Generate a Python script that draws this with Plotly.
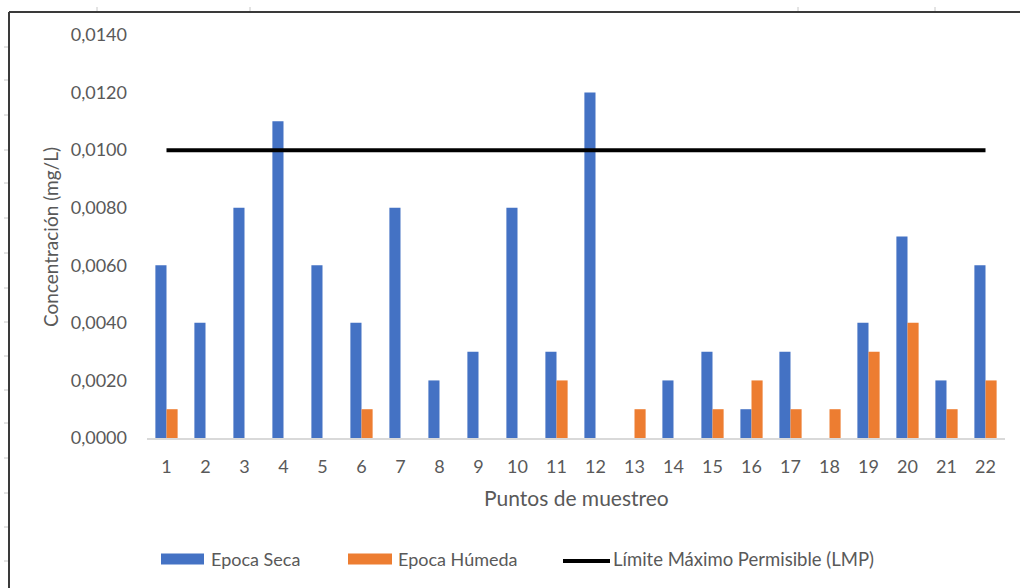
import plotly.graph_objects as go

# Sampling points and measured concentrations (mg/L)
puntos = [str(i) for i in range(1, 23)]
epoca_seca = [0.006, 0.004, 0.008, 0.011, 0.006, 0.004, 0.008, 0.002, 0.003, 0.008, 0.003,
              0.012, 0.0, 0.002, 0.003, 0.001, 0.003, 0.0, 0.004, 0.007, 0.002, 0.006]
epoca_humeda = [0.001, 0.0, 0.0, 0.0, 0.0, 0.001, 0.0, 0.0, 0.0, 0.0, 0.002,
                0.0, 0.001, 0.0, 0.001, 0.002, 0.001, 0.001, 0.003, 0.004, 0.001, 0.002]
lmp = [0.010] * len(puntos)
y_ticks = [0.0, 0.002, 0.004, 0.006, 0.008, 0.010, 0.012, 0.014]
y_tick_text = ["0,0000", "0,0020", "0,0040", "0,0060", "0,0080", "0,0100", "0,0120", "0,0140"]

BLUE = "#4472C4"
ORANGE = "#ED7D31"
TEXT = "#595959"
FONT = "Lato, 'Open Sans', sans-serif"

W, H = 1020, 588
L, R, T, B = 147, 15, 35, 150
PW, PH = W - L - R, H - T - B


def px(x):
    return (x - L) / PW


def py(y):
    return (H - B - y) / PH


fig = go.Figure()
fig.add_trace(go.Bar(x=puntos, y=epoca_seca, name="Epoca Seca", marker_color=BLUE,
                     marker_line_width=0))
fig.add_trace(go.Bar(x=puntos, y=epoca_humeda, name="Epoca Húmeda", marker_color=ORANGE,
                     marker_line_width=0))
fig.add_trace(go.Scatter(x=puntos, y=lmp, mode="lines", name="Límite Máximo Permisible (LMP)",
                         line=dict(color="black", width=4)))

shapes = []
annotations = []

# Outer frame of the chart object
shapes.append(dict(type="line", xref="paper", yref="paper", x0=px(9), x1=px(1020),
                   y0=py(12), y1=py(12), line=dict(color="#3a3a3a", width=2)))
shapes.append(dict(type="line", xref="paper", yref="paper", x0=px(9), x1=px(9),
                   y0=py(12), y1=py(588), line=dict(color="#3a3a3a", width=2)))
for xt in [97, 250, 798, 935]:
    shapes.append(dict(type="line", xref="paper", yref="paper", x0=px(xt), x1=px(xt),
                       y0=py(7), y1=py(11), line=dict(color="#c8c8c8", width=1)))
for yt in [47, 80, 115, 150, 183, 218, 253, 288, 322, 356, 390, 423, 458, 493, 527, 561]:
    shapes.append(dict(type="line", xref="paper", yref="paper", x0=px(4), x1=px(8),
                       y0=py(yt), y1=py(yt), line=dict(color="#c8c8c8", width=1)))

# Legend row
legend_items = [
    ("rect", BLUE, 161, 204, "Epoca Seca", 209, 18),
    ("rect", ORANGE, 348, 392, "Epoca Húmeda", 396, 18),
    ("line", "black", 563, 610, "Límite Máximo Permisible (LMP)", 611, 18.5),
]
ly = 559
for kind, color, x0, x1, label, tx, fs in legend_items:
    if kind == "rect":
        shapes.append(dict(type="rect", xref="paper", yref="paper", x0=px(x0), x1=px(x1),
                           y0=py(ly - 5.5), y1=py(ly + 5.5), fillcolor=color,
                           line=dict(width=0)))
    else:
        shapes.append(dict(type="line", xref="paper", yref="paper", x0=px(x0), x1=px(x1),
                           y0=py(ly + 2), y1=py(ly + 2), line=dict(color=color, width=4)))
    annotations.append(dict(text=label, xref="paper", yref="paper", x=px(tx), y=py(ly),
                            xanchor="left", yanchor="middle", showarrow=False,
                            font=dict(family=FONT, size=fs, color=TEXT)))

# Axis titles
annotations.append(dict(text="Puntos de muestreo", xref="paper", yref="paper",
                        x=px(576), y=py(497), xanchor="center", yanchor="middle",
                        showarrow=False, font=dict(family=FONT, size=21, color=TEXT)))
annotations.append(dict(text="Concentración (mg/L)", xref="paper", yref="paper",
                        x=px(50), y=py(237), xanchor="center", yanchor="middle",
                        textangle=-90, showarrow=False,
                        font=dict(family=FONT, size=19, color=TEXT)))

fig.update_layout(
    width=W, height=H,
    margin=dict(l=L, r=R, t=T, b=B),
    paper_bgcolor="white", plot_bgcolor="white",
    barmode="group", bargap=0.43, bargroupgap=0,
    showlegend=False,
    font=dict(family=FONT, color=TEXT, size=18),
    shapes=shapes, annotations=annotations,
    xaxis=dict(type="category", showgrid=False, showline=True, linecolor="#d9d9d9",
               linewidth=1.5, ticks="", ticklabelstandoff=12,
               tickfont=dict(family=FONT, size=18, color=TEXT), zeroline=False),
    yaxis=dict(range=[0, 0.014], tickvals=y_ticks, ticktext=y_tick_text, showgrid=False,
               showline=False, zeroline=False, ticks="", ticklabelstandoff=19,
               tickfont=dict(family=FONT, size=18, color=TEXT)),
)

fig.write_html("out.html")
